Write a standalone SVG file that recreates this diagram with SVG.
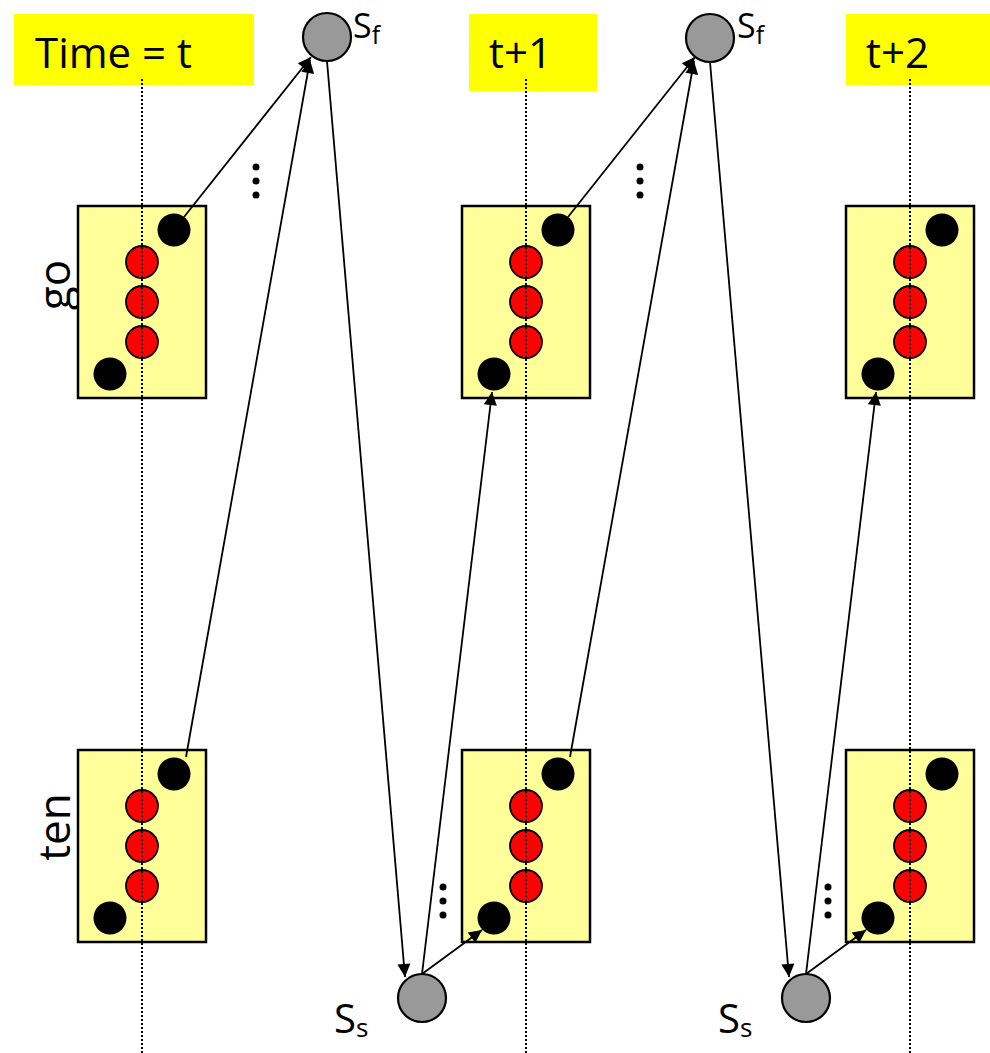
<svg xmlns="http://www.w3.org/2000/svg" width="990" height="1053" viewBox="0 0 990 1053">
<style>
.hdr{fill:#FFFF00;stroke:none}
.box{fill:#FFFF99;stroke:#000;stroke-width:2.5}
.red{fill:#FF0000;stroke:#000;stroke-width:1.8}
.blk{fill:#000}
.st{fill:#999;stroke:#000;stroke-width:2.2}
.dot{stroke:#000;stroke-width:2;stroke-dasharray:2,2;fill:none}
.lbl{font-family:"Open Sans","Liberation Sans",sans-serif;fill:#000}
.conn line{stroke:#000;stroke-width:1.8}
.ell{fill:#000}
</style>
<defs>
<marker id="ah" viewBox="0 0 10 10" refX="10" refY="5" markerWidth="16" markerHeight="13" markerUnits="userSpaceOnUse" orient="auto">
<path d="M0,0 L10,5 L0,10 z" fill="#000"/>
</marker>
</defs>

<g id="headers">
<g id="hdr-t"><rect class="hdr" x="14" y="14" width="240" height="71"/><text class="lbl" x="35" y="68" font-size="42">Time = t</text></g>
<g id="hdr-t1"><rect class="hdr" x="469" y="14" width="128" height="77"/><text class="lbl" x="489" y="68" font-size="42">t+1</text></g>
<g id="hdr-t2"><rect class="hdr" x="846" y="14" width="144" height="71"/><text class="lbl" x="866" y="68" font-size="42">t+2</text></g>
</g>

<text class="lbl" font-size="44" transform="translate(70,285) rotate(-90)" text-anchor="middle">go</text>
<text class="lbl" font-size="44" transform="translate(70,827) rotate(-90)" text-anchor="middle">ten</text>

<g id="box-go-t"><rect class="box" x="78" y="206" width="128" height="192"/>
<circle class="blk" cx="174" cy="230" r="16.5"/><circle class="red" cx="142" cy="262" r="16"/><circle class="red" cx="142" cy="302" r="16"/><circle class="red" cx="142" cy="342" r="16"/><circle class="blk" cx="110" cy="374" r="16.5"/></g>
<g id="box-ten-t"><rect class="box" x="78" y="750" width="128" height="192"/>
<circle class="blk" cx="174" cy="774" r="16.5"/><circle class="red" cx="142" cy="806" r="16"/><circle class="red" cx="142" cy="846" r="16"/><circle class="red" cx="142" cy="886" r="16"/><circle class="blk" cx="110" cy="918" r="16.5"/></g>
<g id="box-go-t1"><rect class="box" x="462" y="206" width="128" height="192"/>
<circle class="blk" cx="558" cy="230" r="16.5"/><circle class="red" cx="526" cy="262" r="16"/><circle class="red" cx="526" cy="302" r="16"/><circle class="red" cx="526" cy="342" r="16"/><circle class="blk" cx="494" cy="374" r="16.5"/></g>
<g id="box-ten-t1"><rect class="box" x="462" y="750" width="128" height="192"/>
<circle class="blk" cx="558" cy="774" r="16.5"/><circle class="red" cx="526" cy="806" r="16"/><circle class="red" cx="526" cy="846" r="16"/><circle class="red" cx="526" cy="886" r="16"/><circle class="blk" cx="494" cy="918" r="16.5"/></g>
<g id="box-go-t2"><rect class="box" x="846" y="206" width="128" height="192"/>
<circle class="blk" cx="942" cy="230" r="16.5"/><circle class="red" cx="910" cy="262" r="16"/><circle class="red" cx="910" cy="302" r="16"/><circle class="red" cx="910" cy="342" r="16"/><circle class="blk" cx="878" cy="374" r="16.5"/></g>
<g id="box-ten-t2"><rect class="box" x="846" y="750" width="128" height="192"/>
<circle class="blk" cx="942" cy="774" r="16.5"/><circle class="red" cx="910" cy="806" r="16"/><circle class="red" cx="910" cy="846" r="16"/><circle class="red" cx="910" cy="886" r="16"/><circle class="blk" cx="878" cy="918" r="16.5"/></g>

<g id="timelines">
<line class="dot" x1="142" y1="79" x2="142" y2="1053"/>
<line class="dot" x1="526" y1="79" x2="526" y2="1053"/>
<line class="dot" x1="910" y1="79" x2="910" y2="1053"/>
</g>

<g id="sf1"><circle class="st" cx="327" cy="37" r="24"/><text class="lbl" x="353" y="38" font-size="34">S<tspan font-size="25" dy="6">f</tspan></text></g>
<g id="sf2"><circle class="st" cx="710" cy="38" r="24"/><text class="lbl" x="737" y="38" font-size="34">S<tspan font-size="25" dy="6">f</tspan></text></g>
<g id="ss1"><circle class="st" cx="422" cy="998" r="24"/><text class="lbl" x="334" y="1033" font-size="40">S<tspan font-size="26" dy="4">s</tspan></text></g>
<g id="ss2"><circle class="st" cx="806" cy="998" r="24"/><text class="lbl" x="718" y="1033" font-size="40">S<tspan font-size="26" dy="4">s</tspan></text></g>

<g id="ellipses">
<circle class="ell" cx="256" cy="167" r="3.5"/><circle class="ell" cx="256" cy="181" r="3.5"/><circle class="ell" cx="256" cy="195" r="3.5"/>
<circle class="ell" cx="640" cy="167" r="3.5"/><circle class="ell" cx="640" cy="181" r="3.5"/><circle class="ell" cx="640" cy="195" r="3.5"/>
<circle class="ell" cx="443" cy="887" r="3.5"/><circle class="ell" cx="443" cy="901" r="3.5"/><circle class="ell" cx="443" cy="915" r="3.5"/>
<circle class="ell" cx="828" cy="887" r="3.5"/><circle class="ell" cx="828" cy="901" r="3.5"/><circle class="ell" cx="828" cy="915" r="3.5"/>
</g>

<g id="connectors" class="conn">
<line x1="184" y1="217" x2="311" y2="57" marker-end="url(#ah)"/>
<line x1="186" y1="757" x2="310" y2="60" marker-end="url(#ah)"/>
<line x1="327" y1="61" x2="405" y2="977" marker-end="url(#ah)"/>
<line x1="422" y1="974" x2="492" y2="392" marker-end="url(#ah)"/>
<line x1="422" y1="974" x2="482" y2="930" marker-end="url(#ah)"/>
<line x1="568" y1="217" x2="695" y2="57" marker-end="url(#ah)"/>
<line x1="570" y1="757" x2="694" y2="61" marker-end="url(#ah)"/>
<line x1="710" y1="62" x2="789" y2="977" marker-end="url(#ah)"/>
<line x1="806" y1="974" x2="876" y2="392" marker-end="url(#ah)"/>
<line x1="806" y1="974" x2="866" y2="930" marker-end="url(#ah)"/>
</g>
</svg>
